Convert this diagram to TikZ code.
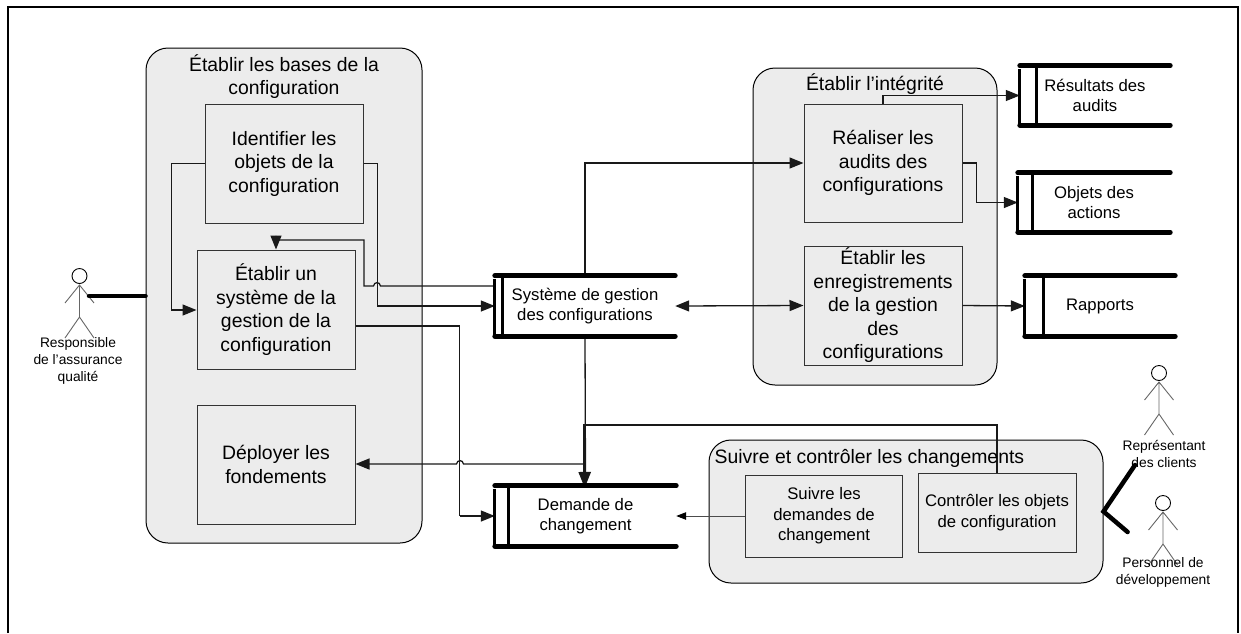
\documentclass[tikz,border=0pt]{standalone}
\usepackage{fontspec}
\setmainfont{Liberation Sans}
\usetikzlibrary{arrows.meta,calc}
\definecolor{panelgray}{HTML}{ECECEC}
\definecolor{boxline}{HTML}{333333}
\definecolor{actorline}{HTML}{666666}
\tikzset{
  panel/.style={draw=black,line width=1pt,fill=panelgray,rounded corners=22pt,inner sep=0pt},
  panelhead/.style={font=\fontsize{19.4}{23.5}\selectfont,align=center,inner sep=0pt},
  bigbox/.style={draw=boxline,line width=1pt,fill=panelgray,inner sep=0pt,align=center,font=\fontsize{19.4}{23.5}\selectfont},
  smallbox/.style={draw=boxline,line width=1pt,fill=panelgray,inner sep=0pt,align=center,font=\fontsize{16.7}{20.5}\selectfont},
  store/.style={inner sep=0pt,align=center,font=\fontsize{16.7}{20.5}\selectfont},
  storebar/.style={line width=5pt,line cap=round},
  storeside/.style={line width=3pt},
  flow/.style={line width=1.3pt,color=black!90},
  arr/.style={flow,-{Triangle[length=14pt,width=11pt]}},
  backarr/.style={flow,{Triangle[length=14pt,width=11pt]}-{Triangle[length=14pt,width=11pt]}},
  thinarr/.style={line width=.9pt,color=black!70,-{Triangle[length=10pt,width=7.5pt,color=black]}},
  assoc/.style={line width=4.5pt,line cap=round},
  frameline/.style={line width=2.2pt},
  actorlabel/.style={inner sep=0pt,align=center,font=\fontsize{13.8}{17}\selectfont},
  actorlimb/.style={draw=actorline,line width=.9pt},
  actor/.pic={
    \node[draw=black,line width=.9pt,circle,minimum size=15pt,inner sep=0pt] (-head) at (0,0) {};
    \path[actorlimb] (0,9) -- (0,41) (-14.5,27) -- (0,9) -- (14.5,27) (-14.5,62) -- (0,41) -- (14.5,62);
  }
}
\newcommand{\storeframe}[2]{% node, inner offset
  \draw[storebar] (#1.north west) -- (#1.north east);
  \draw[storebar] (#1.south west) -- (#1.south east);
  \draw[storeside] ([xshift=-.5pt,yshift=-3pt]#1.north west) -- ([xshift=-.5pt]#1.south west);
  \draw[storeside] ([xshift=#2]#1.north west) -- ([xshift=#2]#1.south west);
}
\begin{document}
\begin{tikzpicture}[x=1pt,y=-1pt]
\useasboundingbox (0,0) rectangle (1241,633);
\draw[frameline] (8,633) -- (8,7) -- (1238,7) -- (1238,633);

% panels
\node[panel,minimum width=276pt,minimum height=495pt] (basepanel) at (284,295.5) {};
\node[panel,minimum width=244pt,minimum height=317pt] (integpanel) at (875,226.5) {};
\node[panel,minimum width=394pt,minimum height=143pt] (suivipanel) at (906,511.5) {};
\node[panelhead] (basetitle) at (284,76.5) {Établir les bases de la\\configuration};
\node[panelhead] (integtitle) at (875,84) {Établir l’intégrité};

% boxes
\node[bigbox,minimum width=158pt,minimum height=119pt] (ident) at (284,163.5) {Identifier les\\objets de la\\configuration};
\node[bigbox,minimum width=158pt,minimum height=119pt] (sysgest) at (276,309.5) {Établir un\\système de la\\gestion de la\\configuration};
\node[bigbox,minimum width=158pt,minimum height=119pt] (deploy) at (276,464.5) {Déployer les\\fondements};
\node[bigbox,minimum width=158pt,minimum height=118pt] (audit) at (883,163) {Réaliser les\\audits des\\configurations};
\node[bigbox,minimum width=158pt,minimum height=119pt] (enreg) at (883,305.5) {Établir les\\enregistrements\\de la gestion\\des\\configurations};
\node[smallbox,minimum width=157.5pt,minimum height=82pt] (suivdem) at (824,516) {Suivre les\\demandes de\\changement};
\node[smallbox,minimum width=158pt,minimum height=79pt] (control) at (997,512.5) {Contrôler les objets\\de configuration};

% stores
\node[store,minimum width=180pt,minimum height=60pt] (sgc) at (585,306) {Système de gestion\\des configurations};
\node[store,minimum width=181pt,minimum height=60pt] (demande) at (585.5,516) {Demande de\\changement};
\node[store,minimum width=150pt,minimum height=59pt] (result) at (1095,95.5) {Résultats des\\audits};
\node[store,minimum width=152pt,minimum height=59pt] (objets) at (1094,202.5) {Objets des\\actions};
\node[store,minimum width=150pt,minimum height=60pt] (rapports) at (1100,306) {Rapports};

% flows
\draw[arr] (ident.west) -- ++(-33,0) |- (sysgest.west |- 0,310);
\draw[arr] (ident.east) -- ++(14,0) |- (sgc.west);
\coordinate (sgcout) at (493,286);
\draw[arr] (sgcout) -- (380.5,286) .. controls (380,281.5) and (374,281.5) .. (373.5,286) -- (364,286) -- (364,240) -- (sysgest.north |- 0,240) -- (sysgest.north);
\draw[flow] (sysgest.east |- 0,326) -| (459.7,516);
\draw[arr] (459.7,516) -- (demande.west);
\draw[arr] (sgc.north) -- (sgc.north |- audit.west) -- (audit.west);
\draw[arr] (sgc.south) -- (demande.north);
\draw[backarr] (sgc.east) -- (enreg.west);
\draw[arr] (sgc.south |- 0,464) -- (463.5,464) .. controls (463,459.5) and (457,459.5) .. (456.5,464) -- (deploy.east |- 0,464);
\draw[arr] (control.north) |- (584,425) -- (584,486);
\draw[thinarr] (suivdem.west) -- (demande.east);
\draw[arr] (audit.north) |- (result.west);
\draw[arr] (audit.east) -- ++(14,0) |- (objets.west);
\draw[arr] (enreg.east) -- (rapports.west);

% store frames drawn over the flows
\storeframe{sgc}{7.5pt}
\storeframe{demande}{13.5pt}
\storeframe{result}{16.5pt}
\storeframe{objets}{15pt}
\storeframe{rapports}{18.5pt}

% titles drawn over the flows
\node[panelhead,anchor=base west] (suivititle) at (714.5,463.5) {Suivre et contrôler les changements};

% actors
\pic (qa) at (79.5,276) {actor};
\pic (client) at (1159,373) {actor};
\pic (dev) at (1163,503) {actor};
\node[actorlabel] (qalabel) at (78,361) {Responsible\\de l’assurance\\qualité};
\node[actorlabel] (clientlabel) at (1164,454) {Représentant\\des clients};
\node[actorlabel] (devlabel) at (1163,572) {Personnel de\\développement};

% thick associations
\coordinate (qahand) at (89,296);
\coordinate (clientend) at (1135,465);
\coordinate (devend) at (1127.6,532);
\draw[assoc] (qahand) -- (basepanel.west |- qahand);
\draw[assoc,line join=miter] (clientend) -- (suivipanel.east) -- (devend);
\end{tikzpicture}
\end{document}
